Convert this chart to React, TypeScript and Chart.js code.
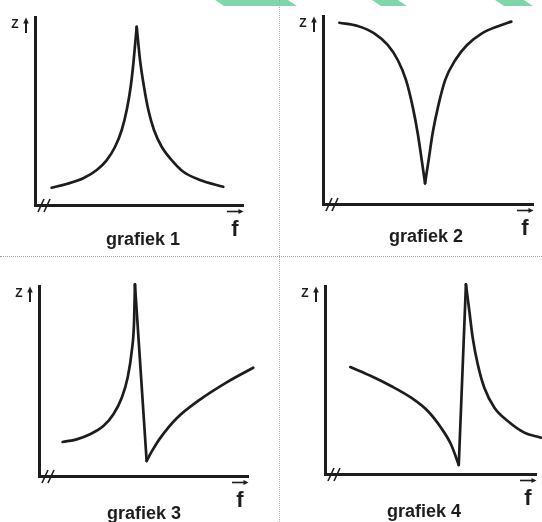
import React, { useEffect, useRef } from "react";
import { Chart, registerables } from "chart.js";

Chart.register(...registerables);

// ---------- data (f on x, Z on y; both in arbitrary units 0..100) ----------
// grafiek 1: resonance peak
const g1RiseF = [8.0, 15.2, 23.2, 29.7, 34.5, 38.5, 41.7, 44.1, 46.0, 47.3, 48.9];
const g1RiseZ = [9.2, 11.2, 14.2, 18.6, 23.9, 31.0, 39.9, 50.5, 62.9, 75.4, 94.8];
const g1FallF = [48.9, 50.5, 52.4, 54.5, 57.2, 60.9, 65.7, 71.3, 79.3, 90.5];
const g1FallZ = [94.8, 77.1, 62.9, 50.5, 39.9, 31.0, 23.9, 17.7, 13.3, 9.7];

// grafiek 2: resonance dip
const g2FallF = [7.8, 16.5, 24.4, 30.8, 35.6, 39.5, 42.7, 45.1, 47.0, 48.6];
const g2FallZ = [96.4, 94.7, 90.8, 84.6, 76.6, 66.0, 51.8, 37.6, 23.4, 11.0];
const g2RiseF = [48.6, 50.3, 52.2, 54.8, 58.2, 63.0, 68.6, 75.7, 83.7, 89.7];
const g2RiseZ = [11.0, 23.4, 37.6, 51.8, 66.0, 76.6, 84.6, 90.8, 94.7, 97.0];

// grafiek 3: peak, then sharp drop, then rise
const g3RiseF = [11.3, 18.0, 24.4, 30.8, 35.6, 39.6, 42.4, 44.4, 45.5, 45.9];
const g3RiseZ = [17.9, 19.3, 22.0, 26.3, 32.5, 41.2, 51.7, 65.8, 81.6, 100.9];
const g3DropF = [45.9, 51.5];
const g3DropZ = [100.9, 7.9];
const g3TailF = [51.5, 53.9, 57.9, 65.9, 77.0, 89.8, 102.5];
const g3TailZ = [7.9, 12.8, 19.8, 30.4, 40.2, 49.3, 57.0];

// grafiek 4: fall, sharp jump, decay
const g4FallF = [12.0, 21.8, 31.3, 40.8, 48.7, 55.0, 59.7, 63.4];
const g4FallZ = [56.9, 52.1, 46.8, 40.6, 33.5, 24.6, 15.8, 4.8];
const g4JumpF = [63.4, 66.8];
const g4JumpZ = [4.8, 100.9];
const g4TailF = [66.8, 68.4, 70.0, 72.4, 75.5, 80.3, 86.6, 94.5, 102.4];
const g4TailZ = [100.9, 86.7, 72.5, 58.3, 45.9, 35.3, 28.2, 22.0, 19.3];

const titles = ["grafiek 1", "grafiek 2", "grafiek 3", "grafiek 4"];
const zLabel = "Z";
const fLabel = "f";

// ---------- layout / style ----------
const W = 542;
const H = 522;
const INK = "#1d1d1d";
const FONT = '"Liberation Sans", Arial, Helvetica, sans-serif';

type Seg = { f: number[]; z: number[]; smooth: boolean };

const panels: {
  box: { l: number; t: number; r: number; b: number };
  title: string;
  titlePos: { x: number; y: number };
  segs: Seg[];
}[] = [
  {
    box: { l: 35, t: 17, r: 243, b: 205 },
    title: titles[0],
    titlePos: { x: 143, y: 245 },
    segs: [
      { f: g1RiseF, z: g1RiseZ, smooth: true },
      { f: g1FallF, z: g1FallZ, smooth: true },
    ],
  },
  {
    box: { l: 323, t: 16, r: 533, b: 204 },
    title: titles[1],
    titlePos: { x: 426, y: 242 },
    segs: [
      { f: g2FallF, z: g2FallZ, smooth: true },
      { f: g2RiseF, z: g2RiseZ, smooth: true },
    ],
  },
  {
    box: { l: 39, t: 286, r: 248, b: 476 },
    title: titles[2],
    titlePos: { x: 144, y: 519 },
    segs: [
      { f: g3RiseF, z: g3RiseZ, smooth: true },
      { f: g3DropF, z: g3DropZ, smooth: false },
      { f: g3TailF, z: g3TailZ, smooth: true },
    ],
  },
  {
    box: { l: 325, t: 286, r: 536, b: 474 },
    title: titles[3],
    titlePos: { x: 424, y: 517 },
    segs: [
      { f: g4FallF, z: g4FallZ, smooth: true },
      { f: g4JumpF, z: g4JumpZ, smooth: false },
      { f: g4TailF, z: g4TailZ, smooth: true },
    ],
  },
];

function line(ctx: CanvasRenderingContext2D, x1: number, y1: number, x2: number, y2: number, w: number) {
  ctx.lineWidth = w;
  ctx.beginPath();
  ctx.moveTo(x1, y1);
  ctx.lineTo(x2, y2);
  ctx.stroke();
}

const decorPlugin = {
  id: "decor",
  afterDraw(chart: any, _args: any, opts: any) {
    const ctx: CanvasRenderingContext2D = chart.ctx;
    const a = chart.chartArea;
    ctx.save();
    ctx.fillStyle = INK;
    ctx.strokeStyle = INK;
    ctx.lineCap = "butt";

    // Z label with up arrow
    ctx.font = `bold 12px ${FONT}`;
    ctx.textAlign = "center";
    ctx.textBaseline = "alphabetic";
    ctx.fillText(opts.z, a.left - 20, a.top + 11);
    const ax = a.left - 9;
    line(ctx, ax, a.top + 16, ax, a.top + 4, 2);
    ctx.beginPath();
    ctx.moveTo(ax - 2.8, a.top + 6.5);
    ctx.lineTo(ax + 2.8, a.top + 6.5);
    ctx.lineTo(ax, a.top + 0.5);
    ctx.closePath();
    ctx.fill();

    // vector f label
    ctx.font = `bold 22px ${FONT}`;
    ctx.fillText(opts.f, a.right - 8, a.bottom + 31);
    const vy = a.bottom + 6.5;
    line(ctx, a.right - 16, vy, a.right - 3, vy, 1.6);
    ctx.beginPath();
    ctx.moveTo(a.right - 4.5, vy - 2.6);
    ctx.lineTo(a.right - 4.5, vy + 2.6);
    ctx.lineTo(a.right + 0.5, vy);
    ctx.closePath();
    ctx.fill();

    // axis break marks "//"
    for (const dx of [0, 6]) {
      line(ctx, a.left + 3 + dx, a.bottom + 7, a.left + 9 + dx, a.bottom - 6, 1.6);
    }

    // panel title
    ctx.font = `bold 18px ${FONT}`;
    ctx.textAlign = "center";
    ctx.fillText(opts.title, opts.tx, opts.ty);
    ctx.restore();
  },
};

function Panel({ idx }: { idx: number }) {
  const ref = useRef<HTMLCanvasElement>(null);
  useEffect(() => {
    const p = panels[idx];
    const axis = {
      type: "linear" as const,
      min: 0,
      max: 100,
      grid: { display: false, drawTicks: false },
      ticks: { display: false },
      title: { display: false },
      border: { display: true, color: INK, width: 3 },
    };
    const chart = new Chart(ref.current as HTMLCanvasElement, {
      type: "line",
      data: {
        datasets: p.segs.map((s) => ({
          data: s.f.map((f, i) => ({ x: f, y: s.z[i] })),
          borderColor: INK,
          borderWidth: 2.7,
          pointRadius: 0,
          fill: false,
          clip: false as any,
          tension: s.smooth ? 0.4 : 0,
          cubicInterpolationMode: s.smooth ? ("monotone" as const) : ("default" as const),
          borderCapStyle: "round" as const,
          borderJoinStyle: "round" as const,
        })),
      },
      options: {
        animation: false,
        responsive: false,
        devicePixelRatio: 1,
        events: [],
        layout: {
          padding: { left: p.box.l, top: p.box.t, right: W - p.box.r, bottom: H - p.box.b },
        },
        scales: { x: axis, y: axis },
        plugins: {
          legend: { display: false },
          tooltip: { enabled: false },
          decor: { z: zLabel, f: fLabel, title: p.title, tx: p.titlePos.x, ty: p.titlePos.y },
        } as any,
      },
      plugins: [decorPlugin],
    });
    return () => chart.destroy();
  }, [idx]);
  return (
    <canvas
      ref={ref}
      width={W}
      height={H}
      style={{ position: "absolute", left: 0, top: 0, width: W, height: H }}
    />
  );
}

const green = "#7fd6a8";
const shapes = [
  { left: 215, w: 82, top: 73 },
  { left: 372, w: 35, top: 26 },
  { left: 495, w: 38, top: 29 },
];

export default function App() {
  return (
    <div
      style={{
        position: "absolute",
        left: 0,
        top: 0,
        width: W,
        height: H,
        background: "#fff",
        overflow: "hidden",
      }}
    >
      {shapes.map((s, i) => (
        <div
          key={i}
          style={{
            position: "absolute",
            left: s.left,
            top: 0,
            width: s.w,
            height: 6,
            background: green,
            clipPath: `polygon(0 0, ${s.top}px 0, ${s.w}px 6px, ${s.w - s.top}px 6px)`,
          }}
        />
      ))}
      <div
        style={{
          position: "absolute",
          left: 0,
          top: 256,
          width: W,
          height: 0,
          borderTop: "1px dotted #a0a0a0",
        }}
      />
      <div
        style={{
          position: "absolute",
          left: 279,
          top: 0,
          width: 0,
          height: H,
          borderLeft: "1px dotted #a8a8a8",
        }}
      />
      {[0, 1, 2, 3].map((i) => (
        <Panel key={i} idx={i} />
      ))}
    </div>
  );
}
